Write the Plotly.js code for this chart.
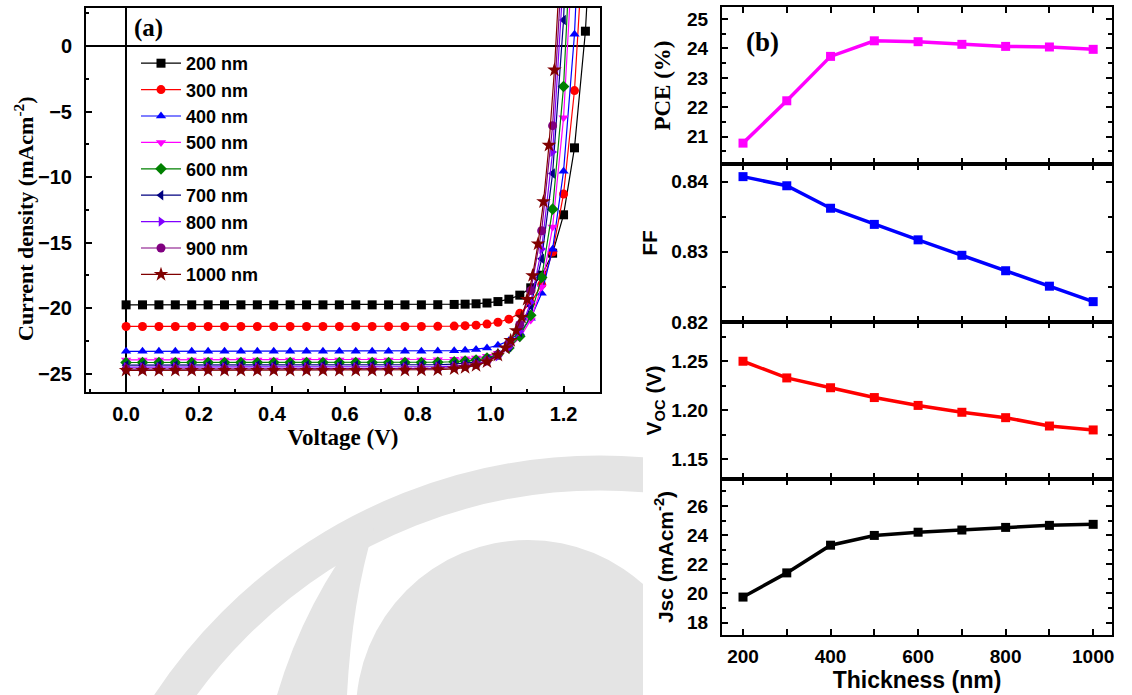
<!DOCTYPE html>
<html>
<head>
<meta charset="utf-8">
<script src="https://cdn.plot.ly/plotly-3.0.1.min.js"></script>
<style>
  html, body { margin: 0; padding: 0; background: #ffffff; }
  #chart { width: 1132px; height: 695px; }
</style>
</head>
<body>
<div id="chart"></div>
<script>
// ---- (a) J-V sweeps for each absorber thickness ----
const seriesLabels = ['200 nm', '300 nm', '400 nm', '500 nm', '600 nm', '700 nm', '800 nm', '900 nm', '1000 nm'];
const seriesColors = ['#000000', '#ff0000', '#0000ff', '#ff00ff', '#008000', '#000080', '#8000ff', '#800080', '#800000'];
const seriesSymbols = ['square', 'circle', 'triangle-up', 'triangle-down', 'diamond', 'triangle-left', 'triangle-right', 'circle', 'star'];

// voltage points (V): flat sweep, then the knee region
const vSweep = [0, 0.045, 0.09, 0.135, 0.18, 0.225, 0.27, 0.315, 0.36, 0.405, 0.45,
                0.495, 0.54, 0.585, 0.63, 0.675, 0.72, 0.765, 0.81, 0.855, 0.9];
const vKnee = [0.93, 0.96, 0.99, 1.02, 1.05, 1.08, 1.11, 1.14, 1.17, 1.20, 1.23, 1.26, 1.29];
const vKnee1000 = [0.93, 0.96, 0.99, 1.02, 1.04, 1.055, 1.07, 1.085, 1.10, 1.115, 1.13, 1.145, 1.16, 1.175, 1.19, 1.205];

// current density (mA cm^-2) at vSweep followed by the knee points
const j200 = [-19.75, -19.75, -19.75, -19.75, -19.75, -19.75, -19.75, -19.75, -19.75, -19.75, -19.75,
              -19.75, -19.75, -19.75, -19.75, -19.75, -19.75, -19.75, -19.75, -19.74, -19.72,
              -19.70, -19.67, -19.61, -19.50, -19.32, -19.01, -18.45, -17.49, -15.81, -12.88, -7.77, 1.13, 16.6];
const j300 = [-21.40, -21.40, -21.40, -21.40, -21.40, -21.40, -21.40, -21.40, -21.40, -21.40, -21.40,
              -21.40, -21.40, -21.40, -21.40, -21.40, -21.40, -21.40, -21.40, -21.39, -21.37,
              -21.34, -21.30, -21.22, -21.08, -20.84, -20.40, -19.61, -18.21, -15.72, -11.29, -3.40, 10.65];
const j400 = [-23.30, -23.30, -23.30, -23.30, -23.30, -23.30, -23.30, -23.30, -23.30, -23.30, -23.30,
              -23.30, -23.30, -23.30, -23.30, -23.30, -23.30, -23.30, -23.30, -23.28, -23.25,
              -23.22, -23.15, -23.04, -22.84, -22.49, -21.87, -20.78, -18.87, -15.50, -9.56, 0.90, 19.3];
const j500 = [-23.95, -23.95, -23.95, -23.95, -23.95, -23.95, -23.95, -23.95, -23.95, -23.95, -23.95,
              -23.95, -23.95, -23.95, -23.95, -23.95, -23.95, -23.95, -23.95, -23.93, -23.90,
              -23.87, -23.80, -23.67, -23.45, -23.03, -22.27, -20.90, -18.39, -13.81, -5.48, 9.70];
const j600 = [-24.15, -24.15, -24.15, -24.15, -24.15, -24.15, -24.15, -24.15, -24.15, -24.15, -24.15,
              -24.15, -24.15, -24.15, -24.15, -24.15, -24.15, -24.15, -24.15, -24.13, -24.09,
              -24.04, -23.96, -23.81, -23.53, -23.04, -22.15, -20.55, -17.66, -12.45, -3.09, 13.8];
const j700 = [-24.35, -24.35, -24.35, -24.35, -24.35, -24.35, -24.35, -24.35, -24.35, -24.35, -24.35,
              -24.35, -24.35, -24.35, -24.35, -24.35, -24.35, -24.35, -24.34, -24.32, -24.28,
              -24.22, -24.11, -23.92, -23.58, -22.96, -21.85, -19.84, -16.23, -9.73, 1.99, 23.1];
const j800 = [-24.50, -24.50, -24.50, -24.50, -24.50, -24.50, -24.50, -24.50, -24.50, -24.50, -24.50,
              -24.50, -24.50, -24.50, -24.50, -24.50, -24.50, -24.50, -24.49, -24.47, -24.43,
              -24.37, -24.25, -24.05, -23.68, -23.01, -21.79, -19.55, -15.49, -8.08, 5.42];
const j900 = [-24.65, -24.65, -24.65, -24.65, -24.65, -24.65, -24.65, -24.65, -24.65, -24.65, -24.65,
              -24.65, -24.65, -24.65, -24.65, -24.65, -24.65, -24.65, -24.63, -24.60, -24.54,
              -24.45, -24.30, -24.03, -23.55, -22.72, -21.25, -18.66, -14.10, -6.08, 8.06];
const j1000 = [-24.75, -24.75, -24.75, -24.75, -24.75, -24.75, -24.75, -24.75, -24.75, -24.75, -24.75,
               -24.75, -24.75, -24.75, -24.75, -24.75, -24.75, -24.74, -24.73, -24.70, -24.63,
               -24.54, -24.38, -24.10, -23.59, -23.04, -22.47, -21.71, -20.69, -19.33, -17.52, -15.10,
               -11.88, -7.57, -1.83, 5.83];

// ---- (b) device parameters versus thickness ----
const thicknessNm = [200, 300, 400, 500, 600, 700, 800, 900, 1000];
const pcePct = [20.78, 22.22, 23.73, 24.26, 24.23, 24.14, 24.07, 24.05, 23.97];
const fillFactor = [0.8407, 0.8394, 0.8362, 0.8339, 0.8317, 0.8295, 0.8273, 0.8251, 0.8229];
const vocV = [1.250, 1.233, 1.223, 1.213, 1.205, 1.198, 1.1925, 1.184, 1.180];
const jscMa = [19.75, 21.41, 23.31, 23.98, 24.20, 24.35, 24.53, 24.67, 24.74];

const jvCurrents = [j200, j300, j400, j500, j600, j700, j800, j900, j1000];

const W = 1132, H = 695;
const px = v => v / W;          // horizontal pixel -> paper fraction
const py = v => 1 - v / H;      // vertical pixel (from top) -> paper fraction

const sansFamily = 'Liberation Sans, Arial, sans-serif';
const serifFamily = 'Liberation Serif, Times New Roman, serif';
const tickFontA = { family: sansFamily, size: 20, color: '#000', weight: 'bold' };
const tickFontB = { family: sansFamily, size: 19, color: '#000', weight: 'bold' };
const serifBold = { family: serifFamily, size: 23, color: '#000', weight: 'bold' };

const traces = [];
jvCurrents.forEach((j, i) => {
  const knee = (i === 8) ? vKnee1000 : vKnee;
  const v = vSweep.concat(knee).slice(0, j.length);
  traces.push({
    type: 'scatter', mode: 'lines+markers',
    x: v, y: j, name: seriesLabels[i],
    legendgroup: 'g' + i,
    xaxis: 'x', yaxis: 'y',
    line: { color: seriesColors[i], width: 1.2 },
    marker: { symbol: seriesSymbols[i], color: seriesColors[i], size: i === 8 ? 11 : 9,
              line: { width: 0 } },
    cliponaxis: true
  });
});

const paramSeries = [
  { y: pcePct, color: '#ff00ff', ax: '2' },
  { y: fillFactor, color: '#0000ff', ax: '3' },
  { y: vocV, color: '#ff0000', ax: '4' },
  { y: jscMa, color: '#000000', ax: '5' }
];
paramSeries.forEach(s => {
  traces.push({
    type: 'scatter', mode: 'lines+markers',
    x: thicknessNm, y: s.y, showlegend: false,
    xaxis: 'x' + s.ax, yaxis: 'y' + s.ax,
    line: { color: s.color, width: 3.5 },
    marker: { symbol: 'square', color: s.color, size: 9 }
  });
});

// frame + inside ticks shared by every axis
function frameAxis(font, extra) {
  return Object.assign({
    showline: true, linecolor: '#000', linewidth: 2,
    ticks: 'inside', ticklen: 6, tickwidth: 2, tickcolor: '#000',
    showgrid: false, zeroline: false,
    tickfont: font, fixedrange: true
  }, extra);
}

const bx = [px(722), px(1112)];
const rows = { p: [py(164), py(7)], f: [py(322), py(164)], v: [py(479), py(322)], j: [py(635), py(479)] };
const thickAxis = (anchor, labels) => frameAxis(tickFontB, {
  domain: bx, anchor: anchor, range: [152, 1043], dtick: 200, tick0: 0,
  mirror: 'allticks', showticklabels: labels, ticklabelstandoff: 3,
  minor: { ticks: 'inside', dtick: 100, ticklen: 6, tickwidth: 2, tickcolor: '#000' }
});

// faint circular emblem printed behind the lower-left of the page
const emblemSvg =
  "<svg xmlns='http://www.w3.org/2000/svg' width='1132' height='695' viewBox='0 0 1132 695'>" +
  "<defs><clipPath id='c'><rect x='0' y='452' width='643' height='243'/></clipPath></defs>" +
  "<g clip-path='url(#c)' fill='#e4e4e4'>" +
  "<circle cx='600' cy='990' r='517' fill='none' stroke='#e4e4e4' stroke-width='35'/>" +
  "<circle cx='528' cy='712' r='172'/>" +
  "<path d='M367,522 Q305,600 277,695 L347,695 Q352,600 374,528 Z'/>" +
  "</g></svg>";

const layout = {
  width: W, height: H,
  margin: { l: 0, r: 0, t: 0, b: 0 },
  paper_bgcolor: '#ffffff', plot_bgcolor: 'rgba(0,0,0,0)',
  showlegend: true,
  images: [{
    source: 'data:image/svg+xml;charset=utf-8,' + encodeURIComponent(emblemSvg),
    xref: 'paper', yref: 'paper', x: 0, y: 1, sizex: 1, sizey: 1,
    xanchor: 'left', yanchor: 'top', sizing: 'stretch', layer: 'below'
  }],
  legend: {
    x: px(136), y: py(45), xanchor: 'left', yanchor: 'top',
    bgcolor: 'rgba(0,0,0,0)', borderwidth: 0,
    font: { family: sansFamily, size: 18, color: '#000', weight: 'bold' },
    tracegroupgap: 0, itemwidth: 40
  },
  xaxis: frameAxis(tickFontA, {
    domain: [px(86), px(600)], anchor: 'y', range: [-0.11, 1.30],
    dtick: 0.2, tick0: 0, tickformat: '.1f', mirror: true, ticklabelstandoff: 3,
    zeroline: true, zerolinecolor: '#000', zerolinewidth: 2,
    minor: { ticks: 'inside', dtick: 0.1, ticklen: 3, tickwidth: 2, tickcolor: '#000' },
    title: { text: 'Voltage (V)', font: serifBold, standoff: 2 }
  }),
  yaxis: frameAxis(tickFontA, {
    domain: [py(392), py(8)], anchor: 'x', range: [-26.4, 2.9],
    dtick: 5, tick0: 0, mirror: true, ticklabelstandoff: 8,
    zeroline: true, zerolinecolor: '#000', zerolinewidth: 2,
    minor: { ticks: 'inside', dtick: 2.5, ticklen: 3, tickwidth: 2, tickcolor: '#000' }
  }),
  xaxis2: thickAxis('y2', false),
  xaxis3: thickAxis('y3', false),
  xaxis4: thickAxis('y4', false),
  xaxis5: Object.assign(thickAxis('y5', true), {
    title: { text: 'Thickness (nm)', font: { family: sansFamily, size: 23, color: '#000', weight: 'bold' }, standoff: 0 }
  }),
  yaxis2: frameAxis(tickFontB, {
    domain: rows.p, anchor: 'x2', range: [20.07, 25.41], dtick: 1, tick0: 0,
    mirror: 'allticks', ticklabelstandoff: 8,
    minor: { ticks: 'inside', dtick: 0.5, ticklen: 4, tickwidth: 2, tickcolor: '#000' },
    title: { text: 'PCE (%)', font: serifBold, standoff: 10 }
  }),
  yaxis3: frameAxis(tickFontB, {
    domain: rows.f, anchor: 'x3', range: [0.82, 0.8425], dtick: 0.01, tick0: 0,
    tickformat: '.2f', mirror: 'allticks', ticklabelstandoff: 8,
    minor: { ticks: 'inside', dtick: 0.005, ticklen: 4, tickwidth: 2, tickcolor: '#000' },
    title: { text: 'FF', font: { family: sansFamily, size: 21, color: '#000', weight: 'bold' }, standoff: 8 }
  }),
  yaxis4: frameAxis(tickFontB, {
    domain: rows.v, anchor: 'x4', range: [1.13, 1.29], dtick: 0.05, tick0: 0,
    tickformat: '.2f', mirror: 'allticks', ticklabelstandoff: 8,
    minor: { ticks: 'inside', dtick: 0.025, ticklen: 4, tickwidth: 2, tickcolor: '#000' },
    title: { text: 'V<sub>OC</sub> (V)', font: { family: sansFamily, size: 21, color: '#000', weight: 'bold' }, standoff: 4 }
  }),
  yaxis5: frameAxis(tickFontB, {
    domain: rows.j, anchor: 'x5', range: [17.15, 27.85], dtick: 2, tick0: 0,
    mirror: 'allticks', ticklabelstandoff: 8,
    minor: { ticks: 'inside', dtick: 1, ticklen: 4, tickwidth: 2, tickcolor: '#000' },
    title: { text: 'Jsc (mAcm<sup>-2</sup>)', font: { family: sansFamily, size: 21, color: '#000', weight: 'bold' }, standoff: 8 }
  }),
  annotations: [
    { text: 'Current density (mAcm<sup>-2</sup>)', xref: 'paper', yref: 'paper',
      x: px(24), y: py(219), xanchor: 'center', yanchor: 'middle', textangle: -90,
      showarrow: false, font: Object.assign({}, serifBold, { size: 22 }) },
    { text: '(a)', xref: 'paper', yref: 'paper', x: px(132), y: py(28), xanchor: 'left', yanchor: 'middle',
      showarrow: false, font: Object.assign({}, serifBold, { size: 25 }) },
    { text: '(b)', xref: 'paper', yref: 'paper', x: px(744), y: py(42), xanchor: 'left', yanchor: 'middle',
      showarrow: false, font: Object.assign({}, serifBold, { size: 27 }) }
  ]
};

Plotly.newPlot('chart', traces, layout, { displayModeBar: false, staticPlot: true });
</script>
</body>
</html>
